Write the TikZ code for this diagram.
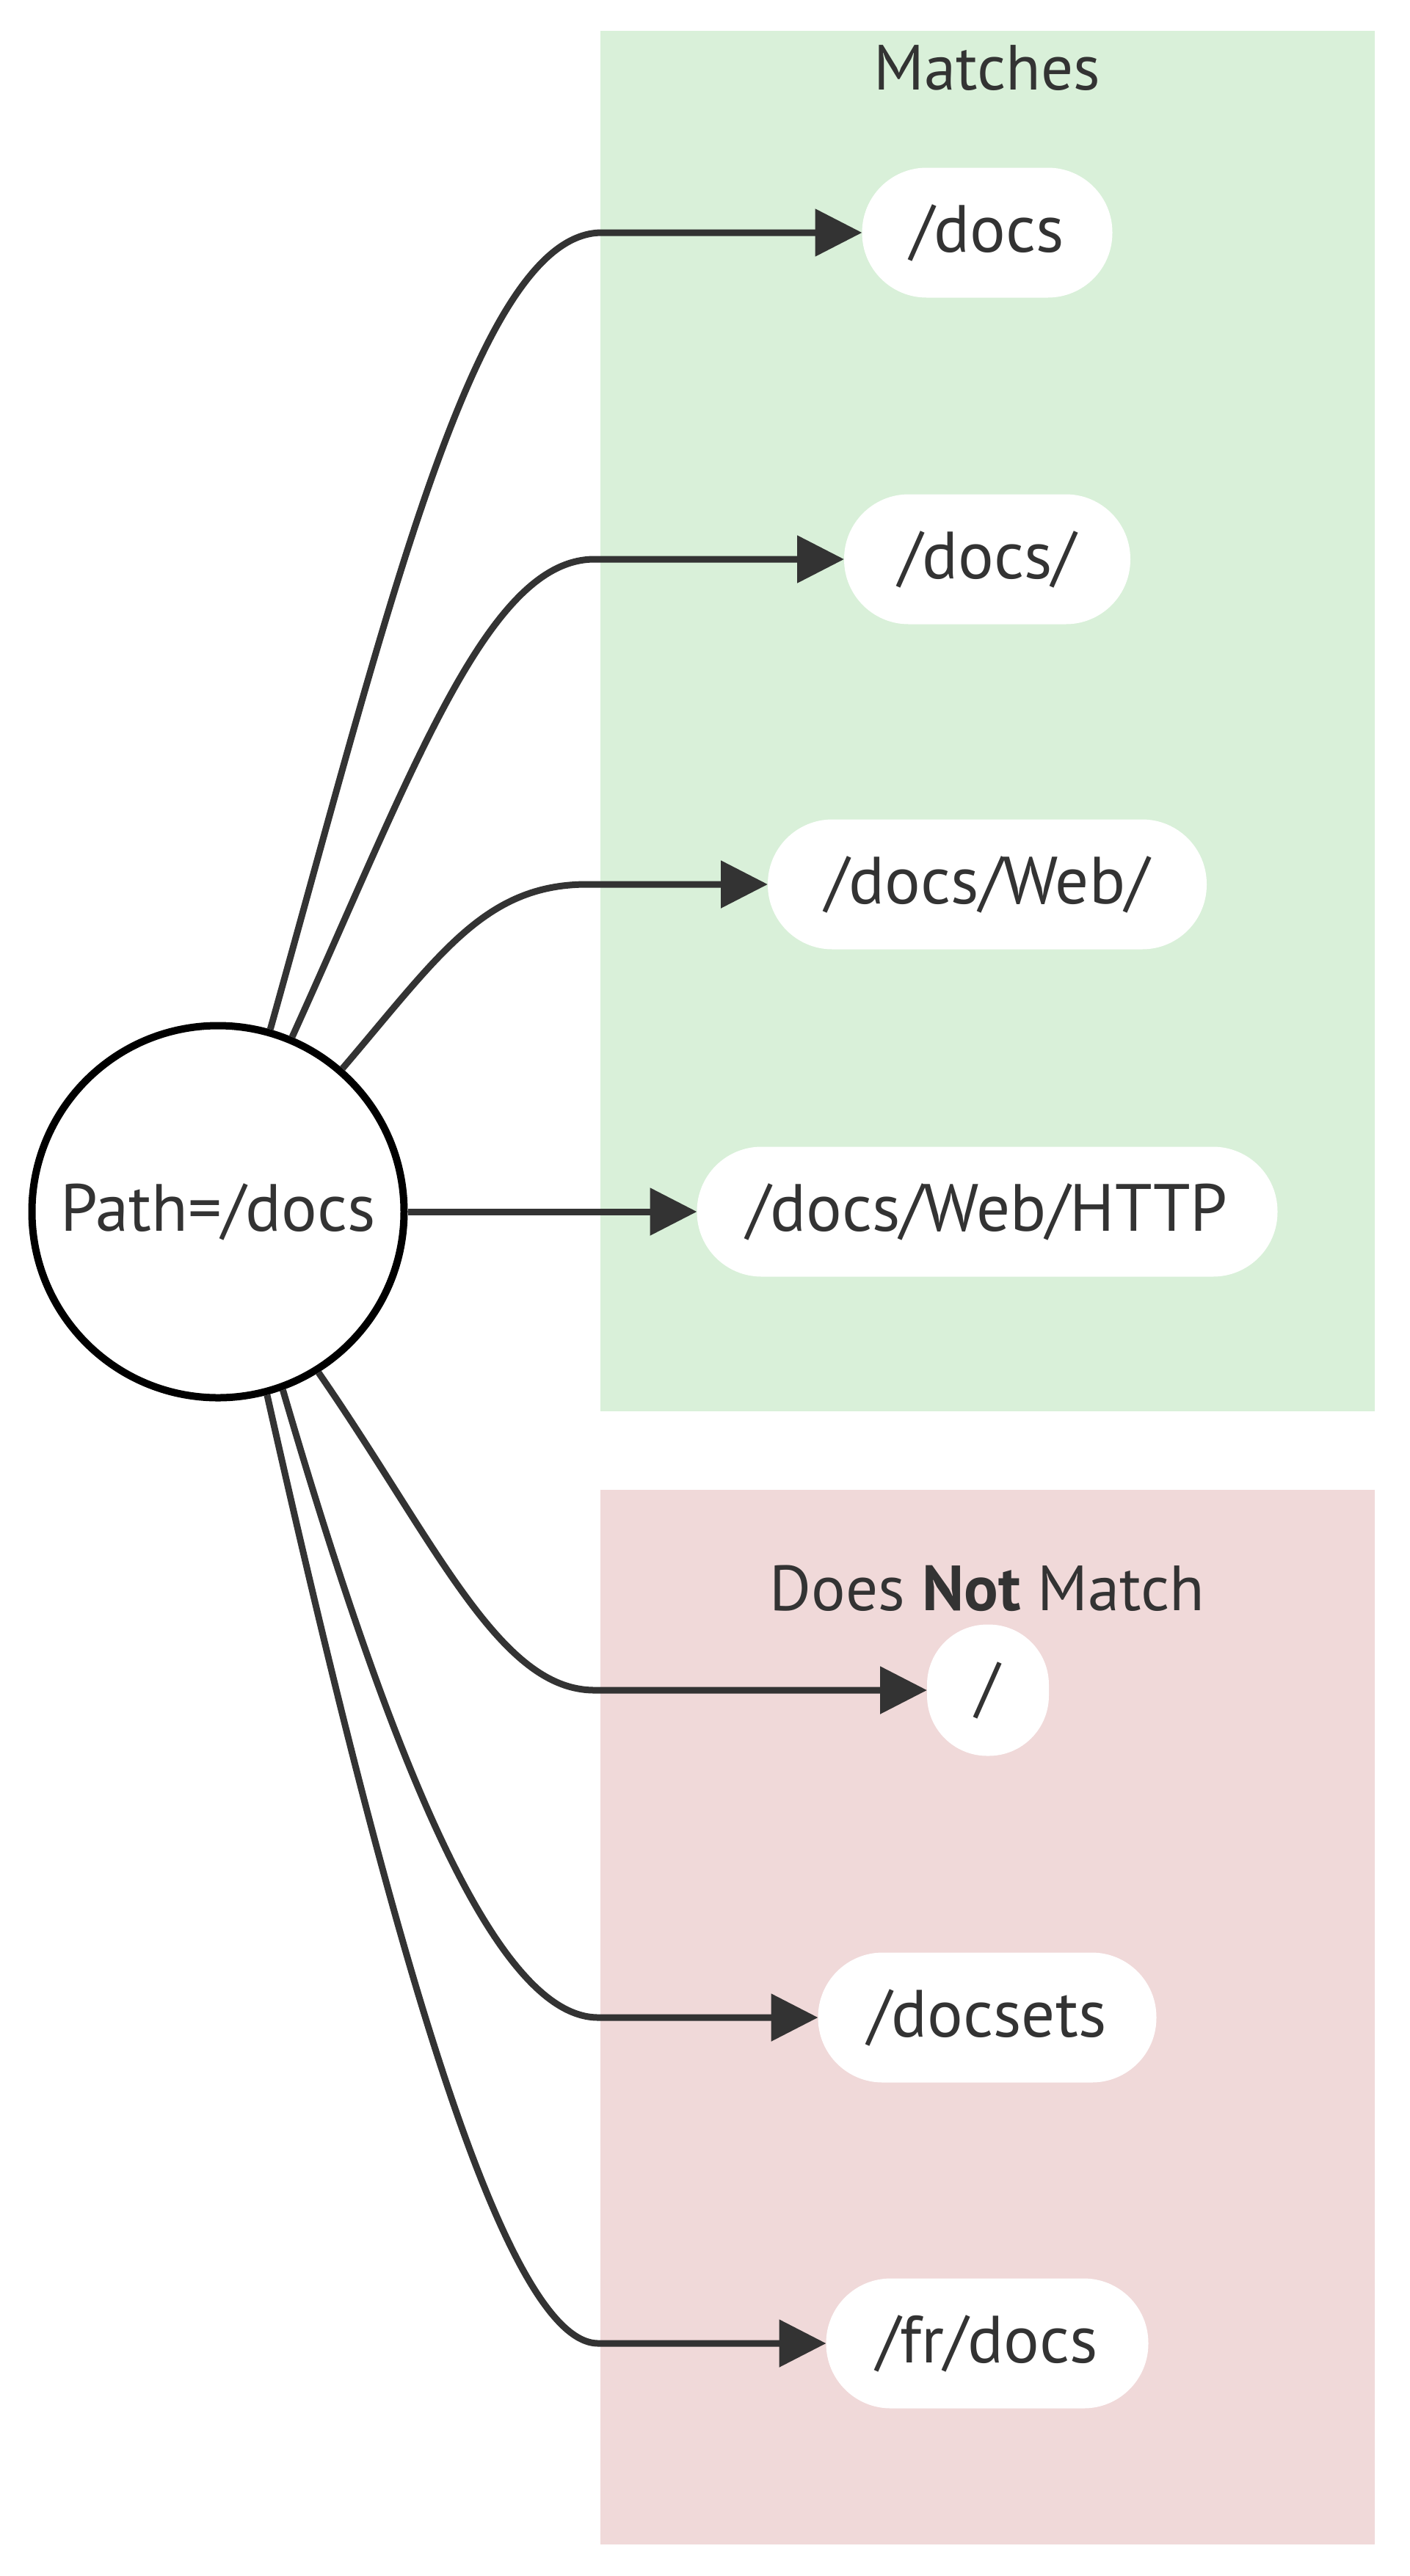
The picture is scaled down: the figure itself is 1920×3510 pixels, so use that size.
\documentclass[tikz,border=0pt]{standalone}
\usepackage{fontspec}
\setmainfont{PT Sans}
\usetikzlibrary{arrows.meta}
\definecolor{edgec}{HTML}{333333}
\definecolor{txtc}{HTML}{333333}
\definecolor{matchbg}{RGB}{217,240,217}
\definecolor{nomatchbg}{RGB}{240,217,217}
\tikzset{
  lbl/.style={font=\fontsize{87}{104}\selectfont, text=txtc, inner sep=0pt, outer sep=0pt},
  nlbl/.style={lbl, font=\fontsize{91}{108}\selectfont},
  leaf/.style={nlbl, rectangle, rounded corners=88pt, fill=white, minimum height=177pt, inner xsep=0pt, inner ysep=0pt},
  conn/.style={draw=edgec, line width=9pt, -{Triangle[length=64pt,width=63pt]}},
}
\begin{document}
\begin{tikzpicture}[x=1pt,y=-1pt]
\useasboundingbox (0,0) rectangle (1920,3510);
\fill[white] (0,0) rectangle (1920,3510);
% groups
\fill[matchbg] (818,42) rectangle (1873,1923);
\fill[nomatchbg] (818,2030) rectangle (1873,3467);
\node[lbl, anchor=base] (tmatch) at (1345,122) {Matches};
\node[lbl, anchor=base] (tnomatch) at (1345,2194) {Does \textbf{Not} Match};
% source
\node[nlbl, circle, draw=black, line width=10pt, fill=white, minimum size=507pt, inner sep=0pt, outer sep=5pt] (path) at (297,1651) {Path=/docs};
% targets
\node[leaf, minimum width=341pt] (docs) at (1345,317) {/docs};
\node[leaf, minimum width=390pt] (docsslash) at (1345,762) {/docs/};
\node[leaf, minimum width=598pt] (docsweb) at (1345,1205) {/docs/Web/};
\node[leaf, minimum width=791pt] (http) at (1345,1651) {/docs/Web/HTTP};
\node[leaf, rounded corners=82pt, minimum width=166pt, minimum height=179pt] (root) at (1346,2303) {/};
\node[leaf, minimum width=461pt] (docsets) at (1345,2749) {/docsets};
\node[leaf, minimum width=439pt] (frdocs) at (1345,3193) {/fr/docs};
% connectors
\draw[conn] (path.74) .. controls (531,822) and (650,0 |- docs.west) .. (820,0 |- docs.west) -- (docs.west);
\draw[conn] (path.67) .. controls (564,1047) and (665,0 |- docsslash.west) .. (810,0 |- docsslash.west) -- (docsslash.west);
\draw[conn] (path.49.5) .. controls (598,1302) and (660,0 |- docsweb.west) .. (800,0 |- docsweb.west) -- (docsweb.west);
\draw[conn] (path.east) -- (http.west);
\draw[conn] (path.-58.7) .. controls (594,2102) and (680,0 |- root.west) .. (810,0 |- root.west) -- (root.west);
\draw[conn] (path.-70) .. controls (540,2423) and (680,0 |- docsets.west) .. (815,0 |- docsets.west) -- (docsets.west);
\draw[conn] (path.-75.8) .. controls (517,2581) and (680,0 |- frdocs.west) .. (815,0 |- frdocs.west) -- (frdocs.west);
\end{tikzpicture}
\end{document}
